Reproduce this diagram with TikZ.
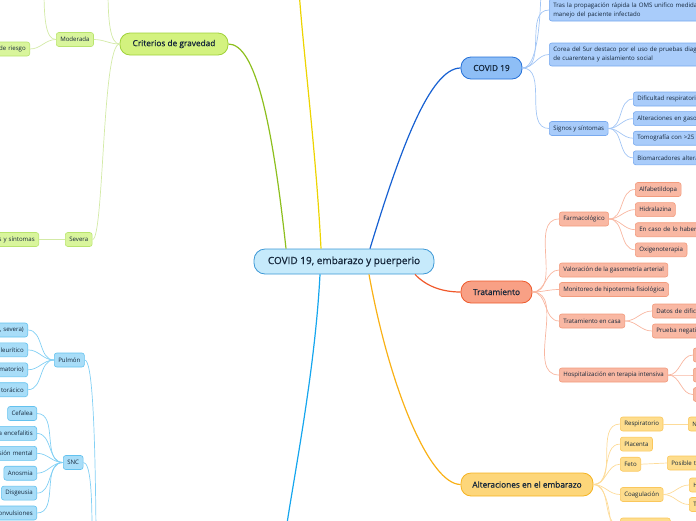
\documentclass[tikz,border=0pt]{standalone}
\usepackage{fontspec}
\setmainfont{Open Sans}
\newfontfamily\heavyfont{Open Sans}[FakeBold=0.7]
\usepackage{tikz}
\usetikzlibrary{positioning}

\definecolor{ink}{HTML}{14263A}
\definecolor{rootF}{HTML}{C6EAFB}
\definecolor{rootB}{HTML}{3C98D6}
\definecolor{grnL}{HTML}{8DBF1E}
\definecolor{grnF}{HTML}{D3F27F}
\definecolor{grnB}{HTML}{A0D23A}
\definecolor{grnSF}{HTML}{D9F59C}
\definecolor{grnSB}{HTML}{B9E46E}
\definecolor{grnSL}{HTML}{D3EAA6}
\definecolor{yelL}{HTML}{EDD400}
\definecolor{bluL}{HTML}{1660D2}
\definecolor{bluF}{HTML}{8EBEF6}
\definecolor{bluB}{HTML}{2470D8}
\definecolor{bluSF}{HTML}{A9CCFA}
\definecolor{bluSB}{HTML}{78A9EE}
\definecolor{bluSL}{HTML}{A3C6F5}
\definecolor{redL}{HTML}{F0582A}
\definecolor{redF}{HTML}{F8A085}
\definecolor{redB}{HTML}{EE5A2C}
\definecolor{redSF}{HTML}{F9B8A3}
\definecolor{redSB}{HTML}{F29B7D}
\definecolor{redSL}{HTML}{F8B6A0}
\definecolor{orgL}{HTML}{F9B116}
\definecolor{orgF}{HTML}{FDD67A}
\definecolor{orgB}{HTML}{F5B322}
\definecolor{orgSF}{HTML}{FEDD8D}
\definecolor{orgSB}{HTML}{FAC75C}
\definecolor{orgSL}{HTML}{FDDB98}
\definecolor{cyaL}{HTML}{15A6EE}
\definecolor{cyaSF}{HTML}{A8DDF8}
\definecolor{cyaSB}{HTML}{63C2EF}
\definecolor{cyaSL}{HTML}{82D0F4}

\begin{document}
\begin{tikzpicture}[
    x=1pt, y=-1pt,
    font=\fontsize{6.1}{9}\selectfont, text=ink,
    root/.style={draw=rootB, fill=rootF, rounded corners=11pt, line width=0.8pt,
                 minimum width=180pt, minimum height=25pt, font=\heavyfont\fontsize{10}{12}\selectfont},
    branch/.style={rounded corners=10pt, line width=0.8pt, minimum height=22pt,
                   font=\heavyfont\fontsize{8.3}{10}\selectfont},
    leaf/.style={draw, rounded corners=2.5pt, line width=0.6pt, minimum height=14pt,
                 inner xsep=4pt, inner ysep=1pt},
    gleaf/.style={leaf, draw=grnSB, fill=grnSF},
    bleaf/.style={leaf, draw=bluSB, fill=bluSF},
    rleaf/.style={leaf, draw=redSB, fill=redSF},
    oleaf/.style={leaf, draw=orgSB, fill=orgSF},
    cleaf/.style={leaf, draw=cyaSB, fill=cyaSF},
    cutl/.style={text width=60pt, align=right},
    cutr/.style={text width=220pt, align=left},
    main/.style={line width=1.2pt},
    link/.style={line width=0.7pt},
]
\useasboundingbox (0,0) rectangle (696,520);
\clip (0,0) rectangle (696,520);

% --- Central topic ---
\node[root] (root) at (344,261.5) {COVID 19, embarazo y puerperio};

% --- Main branches ---
\node[branch, draw=grnB, fill=grnF, minimum width=108pt] (crit) at (174,44) {Criterios de gravedad};
\node[branch, draw=bluB, fill=bluF, minimum width=61pt]  (covid) at (491.5,68) {COVID 19};
\node[branch, draw=redB, fill=redF, minimum width=71pt]  (trat) at (496.5,292) {Tratamiento};
\node[branch, draw=orgB, fill=orgF, minimum width=132pt, minimum height=23pt] (alter) at (527,484.5) {Alteraciones en el embarazo};

% branches leave the central topic from its top and bottom edges
\coordinate (yelEnd) at (299,-10);
\coordinate (cyaEnd) at (286,530);
\draw[main, grnL] ([xshift=-58pt]root.north) .. controls (272,120) and (255,44) .. (crit.east);
\draw[main, yelL] ([xshift=-23pt]root.north) .. controls (316,150) and (303,50) .. (yelEnd);
\draw[main, bluL] ([xshift=26pt]root.north) .. controls (400,150) and (430,68) .. (covid.west);
\draw[main, redL] ([xshift=71pt]root.south) .. controls (428,288) and (445,292) .. (trat.west);
\draw[main, orgL] ([xshift=25pt]root.south) .. controls (390,390) and (430,484.5) .. (alter.west);
\draw[main, cyaL] ([xshift=-24pt]root.south) .. controls (315,370) and (295,470) .. (cyaEnd);

% --- Criterios de gravedad (left, top) ---
\node[gleaf, anchor=west] (moder) at (56,39.5) {Moderada};
\node[gleaf, cutl, anchor=east] (riesgo) at (30,49) {de riesgo};
\node[gleaf, anchor=west] (severa) at (65,239.5) {Severa};
\node[gleaf, cutl, anchor=east] (sintom) at (39,239.5) {s y síntomas};
\coordinate (critUp) at (108,-10);
\coordinate (moderUp) at (44,-10);

\draw[link, grnSL] (crit.west) to[out=180,in=0] (moder.east);
\draw[link, grnSL] (crit.west) .. controls (110,44) and (108,20) .. (critUp);
\draw[link, grnSL] (crit.west) .. controls (102,44) and (104,240) .. (severa.east);
\draw[link, grnSL] (moder.west) to[out=180,in=0] (riesgo.east);
\draw[link, grnSL] (moder.west) .. controls (46,39.5) and (44,20) .. (moderUp);
\draw[link, grnSL] (severa.west) -- (sintom.east);

% --- COVID 19 (right, top) ---
\node[bleaf, cutr, anchor=west, minimum height=22pt] (tras) at (549,10)
     {Tras la propagación rápida la OMS unifico medidas\\manejo del paciente infectado};
\node[bleaf, cutr, anchor=west, minimum height=23pt] (corea) at (549,54.5)
     {Corea del Sur destaco por el uso de pruebas diagno\\de cuarentena y aislamiento social};
\node[bleaf, anchor=west] (signos) at (549,128.5) {Signos y síntomas};
\node[bleaf, cutr, anchor=west] (dif) at (633,99) {Dificultad respiratoria};
\node[bleaf, cutr, below=5pt of dif.south west, anchor=north west]  (gaso) {Alteraciones en gaso};
\node[bleaf, cutr, below=5pt of gaso.south west, anchor=north west] (tomo) {Tomografía con >25 p};
\node[bleaf, cutr, below=5pt of tomo.south west, anchor=north west] (bio)  {Biomarcadores altera};
\coordinate (covidUp) at (541,-10);

\draw[link, bluSL] (covid.east) .. controls (536,68) and (540,30) .. (covidUp);
\foreach \c in {tras,corea,signos}
  \draw[link, bluSL] (covid.east) to[out=0,in=180] (\c.west);
\foreach \c in {dif,gaso,tomo,bio}
  \draw[link, bluSL] (signos.east) to[out=0,in=180] (\c.west);

% --- Tratamiento (right, middle) ---
\node[rleaf, anchor=west] (farm)  at (559,219) {Farmacológico};
\node[rleaf, anchor=west] (valor) at (559,270) {Valoración de la gasometría arterial};
\node[rleaf, anchor=west] (monit) at (559,289.5) {Monitoreo de hipotermia fisiológica};
\node[rleaf, anchor=west] (casa)  at (559,321) {Tratamiento en casa};
\node[rleaf, anchor=west] (hosp)  at (559,375) {Hospitalización en terapia intensiva};

\node[rleaf, anchor=west] (alfa) at (635,189.5) {Alfabetildopa};
\node[rleaf, below=5.5pt of alfa.south west, anchor=north west]        (hidra) {Hidralazina};
\node[rleaf, cutr, below=5.5pt of hidra.south west, anchor=north west] (caso)  {En caso de lo haber};
\node[rleaf, below=5.5pt of caso.south west, anchor=north west]        (oxi)   {Oxigenoterapia};

\node[rleaf, cutr, anchor=west] (datos)  at (652,311) {Datos de dificu};
\node[rleaf, cutr, anchor=west] (prueba) at (652,331) {Prueba negativ};

\node[rleaf, minimum width=20pt, anchor=west] (hA) at (693,355) {};
\node[rleaf, minimum width=20pt, anchor=west] (hB) at (693,375) {};
\node[rleaf, minimum width=20pt, anchor=west] (hC) at (693,394.5) {};

\foreach \c in {farm,valor,monit,casa,hosp}
  \draw[link, redSL] (trat.east) to[out=0,in=180] (\c.west);
\foreach \c in {alfa,hidra,caso,oxi}
  \draw[link, redSL] (farm.east) to[out=0,in=180] (\c.west);
\foreach \c in {datos,prueba}
  \draw[link, redSL] (casa.east) to[out=0,in=180] (\c.west);
\foreach \c in {hA,hB,hC}
  \draw[link, redSL] (hosp.east) to[out=0,in=180] (\c.west);

% --- Alteraciones en el embarazo (right, bottom) ---
\node[oleaf, anchor=west] (resp) at (620,424) {Respiratorio};
\node[oleaf, below=5.5pt of resp.south west, anchor=north west] (plac) {Placenta};
\node[oleaf, below=5.5pt of plac.south west, anchor=north west] (feto) {Feto};
\node[oleaf, anchor=west] (coag) at (620,494.5) {Coagulación};
\node[oleaf, minimum width=50pt, anchor=west] (otra) at (620,525) {};
\node[oleaf, cutr, anchor=west] (nn)  at (688,424) {N};
\node[oleaf, cutr, anchor=west] (pos) at (667,463) {Posible tr};
\node[oleaf, cutr, anchor=west] (hh)  at (689,485) {H};
\node[oleaf, cutr, anchor=west] (tt)  at (689,504.5) {T};
\coordinate (alterDown) at (611,530);

\foreach \c in {resp,plac,feto,coag,otra}
  \draw[link, orgSL] (alter.east) to[out=0,in=180] (\c.west);
\draw[link, orgSL] (alter.east) .. controls (604,484.5) and (610,505) .. (alterDown);
\draw[link, orgSL] (resp.east) -- (nn.west);
\draw[link, orgSL] (feto.east) -- (pos.west);
\foreach \c in {hh,tt}
  \draw[link, orgSL] (coag.east) to[out=0,in=180] (\c.west);

% --- Lower-left branch (Pulmón, SNC) ---
\node[cleaf, anchor=west] (pulmon) at (54,360) {Pulmón};
\node[cleaf, cutl, anchor=east] (sev) at (28,330) {, severa)};
\node[cleaf, cutl, below=5.3pt of sev.south east, anchor=north east]  (pleu) {leurítico};
\node[cleaf, cutl, below=5.3pt of pleu.south east, anchor=north east] (infl) {matorio)};
\node[cleaf, cutl, below=5.3pt of infl.south east, anchor=north east] (tor)  {torácico};

\node[cleaf, anchor=west] (snc) at (63,462.5) {SNC};
\node[cleaf, anchor=east] (cef) at (37,413.5) {Cefalea};
\node[cleaf, cutl, below=5.3pt of cef.south east, anchor=north east]   (ence) {a encefalitis};
\node[cleaf, cutl, below=5.3pt of ence.south east, anchor=north east]  (ment) {sión mental};
\node[cleaf, below=5.3pt of ment.south east, anchor=north east]        (anos) {Anosmia};
\node[cleaf, below=5.3pt of anos.south east, anchor=north east]        (disg) {Disgeusia};
\node[cleaf, cutl, below=5.3pt of disg.south east, anchor=north east]  (conv) {onvulsiones};
\coordinate (pulmonDown) at (96,530);
\coordinate (sncDown) at (92,530);

\draw[link, cyaSL] (pulmon.east) .. controls (92,360) and (95,420) .. (pulmonDown);
\draw[link, cyaSL] (snc.east) .. controls (90,462.5) and (92,490) .. (sncDown);
\foreach \c in {sev,pleu,infl,tor}
  \draw[link, cyaSL] (pulmon.west) to[out=180,in=0] (\c.east);
\foreach \c in {cef,ence,ment,anos,disg,conv}
  \draw[link, cyaSL] (snc.west) to[out=180,in=0] (\c.east);

\end{tikzpicture}
\end{document}
